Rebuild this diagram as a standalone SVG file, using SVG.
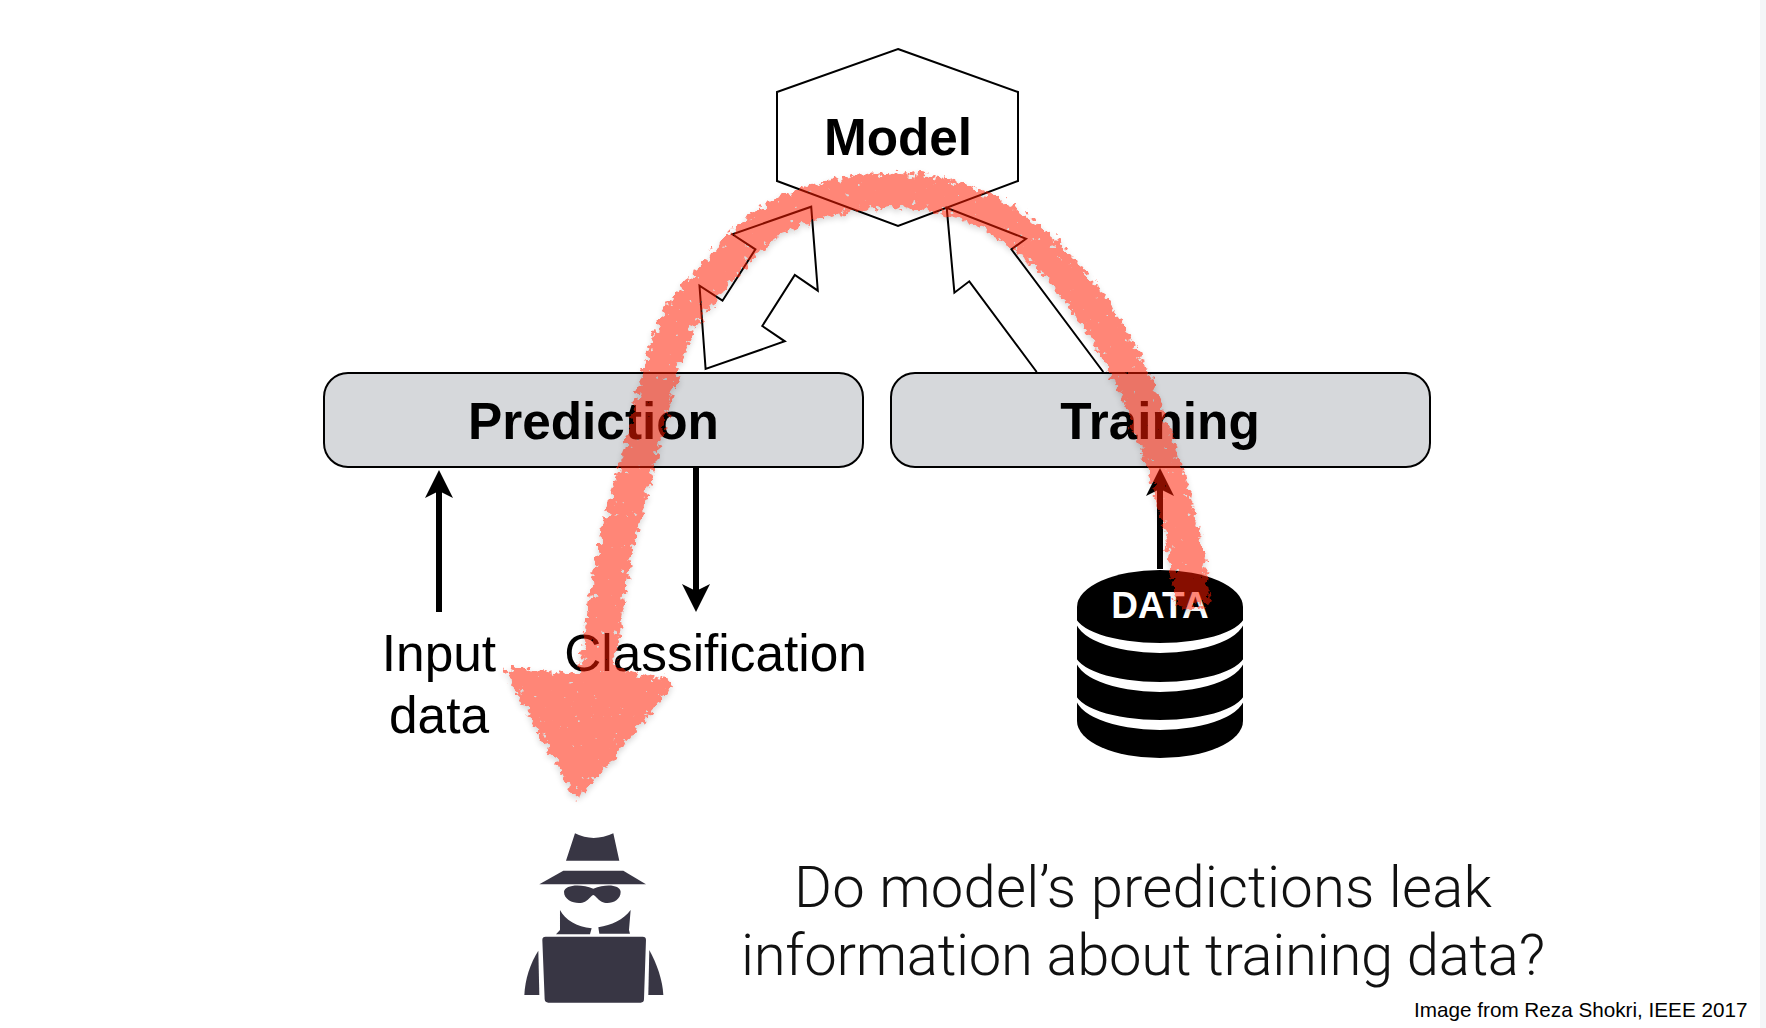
<svg xmlns="http://www.w3.org/2000/svg" width="1766" height="1028" viewBox="0 0 1766 1028">
<style>
.b{font-family:"Liberation Sans",Arial,sans-serif;font-weight:700;font-size:51.3px;fill:#000;text-anchor:middle}
.l{font-family:"Liberation Sans",Arial,sans-serif;font-size:51.4px;fill:#000;text-anchor:middle}
.q{font-family:Roboto,"Liberation Sans",sans-serif;font-weight:300;font-size:58px;fill:#111;text-anchor:middle}
.box{fill:#d6d8db;stroke:#000;stroke-width:2}
.hollow{fill:#fff;stroke:#000;stroke-width:2}
.arrow{fill:none;stroke:#000;stroke-width:6;marker-end:url(#head)}
.spy{fill:#383644}
</style>
<defs>
<marker id="head" markerUnits="userSpaceOnUse" markerWidth="32" markerHeight="32" viewBox="-2 -16 32 32" refX="8" refY="0" orient="auto"><path d="M0,-14L28,0L0,14L7,0Z" fill="#000"/></marker>
<filter id="rough" x="-10%" y="-10%" width="120%" height="120%" color-interpolation-filters="sRGB">
<feGaussianBlur in="SourceAlpha" stdDeviation="5" result="b"/>
<feTurbulence type="fractalNoise" baseFrequency="0.16" numOctaves="3" seed="7"/>
<feColorMatrix values="0 0 0 0 0 0 0 0 0 0 0 0 0 0 0 1 0 0 0 0" result="t"/>
<feComposite in="b" in2="t" operator="arithmetic" k1="0" k2="1.25" k3="1.5" k4="-1.3"/>
<feComponentTransfer result="m"><feFuncA type="linear" slope="10" intercept="-2"/></feComponentTransfer>
<feFlood flood-color="#ff1c00"/>
<feComposite in2="m" operator="in" result="c"/>
<feGaussianBlur in="m" stdDeviation="3"/>
<feOffset dx="0" dy="3"/>
<feComponentTransfer result="s"><feFuncA type="linear" slope="0.3"/></feComponentTransfer>
<feMerge><feMergeNode in="s"/><feMergeNode in="c"/></feMerge>
</filter>
</defs>
<rect width="1766" height="1028" fill="#fff"/>
<rect x="1760" width="6" height="1028" fill="#f4f6f8"/>
<g id="model">
<polygon points="898,49 1018,92 1018,181 898,226 777,181 777,92" fill="#fff" stroke="#000" stroke-width="2"/>
<text class="b" x="898" y="155">Model</text>
</g>
<g id="prediction">
<rect class="box" x="324" y="373" width="539" height="94" rx="24"/>
<text class="b" x="593.5" y="439">Prediction</text>
</g>
<g id="training">
<rect class="box" x="891" y="373" width="539" height="94" rx="24"/>
<text class="b" x="1160" y="439">Training</text>
</g>
<g id="input-data">
<text class="l" x="439" y="671">Input</text>
<text class="l" x="439" y="733">data</text>
</g>
<g id="classification">
<text class="l" x="715.5" y="671">Classification</text>
</g>
<g id="data">
<path d="M1077,607A83,37 0 0 1 1243,607V721A83,37 0 0 1 1077,721Z" fill="#000"/>
<path d="M1075,614A85,29 0 0 0 1245,614V618A85,35 0 0 1 1075,618ZM1075,653A85,29 0 0 0 1245,653V657A85,35 0 0 1 1075,657ZM1075,691A85,29 0 0 0 1245,691V695A85,35 0 0 1 1075,695Z" fill="#fff"/>
<text x="1160" y="618" font-family="Liberation Sans,Arial,sans-serif" font-weight="700" font-size="37" fill="#fff" text-anchor="middle">DATA</text>
</g>
<g id="attacker" class="spy" transform="translate(480 600) scale(0.3333)">
<path d="M285,700Q340,728 400,700L418,782H258Z"/>
<path d="M250,812H430L498,853H178Z"/>
<path d="M252,875C255,855 300,850 340,866C380,850 420,855 422,875C422,905 385,915 365,905C352,898 345,885 340,885C335,885 328,898 315,905C295,915 252,905 252,875Z"/>
<path d="M240,930C255,960 290,980 335,985L330,1003H228L240,990Z"/>
<path d="M452,930C430,960 395,975 355,982L358,1001H450L447,990Z"/>
<path d="M197,1010H488Q498,1010 498,1020L492,1198Q492,1208 482,1208H205Q195,1208 194,1198L187,1020Q187,1010 197,1010Z"/>
<path d="M175,1052C150,1090 135,1140 133,1185H178Z"/>
<path d="M508,1050C530,1090 548,1140 550,1185H505Z"/>
</g>
<g id="question">
<text class="q" x="1143" y="907" textLength="698" lengthAdjust="spacing">Do model’s predictions leak</text>
<text class="q" x="1143" y="975" textLength="804" lengthAdjust="spacing">information about training data?</text>
</g>
<g id="credit">
<text x="1414" y="1017" font-family="Liberation Sans,Arial,sans-serif" font-size="20.7" fill="#000">Image from Reza Shokri, IEEE 2017</text>
</g>
<g id="connectors">
<path class="hollow" d="M811.2,206.7L817.8,290.7L794.8,275L762.3,326L784.8,341.3L705.6,369L699.5,285.7L722.5,300.7L755.4,249.3L732.4,234.3Z"/>
<path class="hollow" d="M1036.7,372L969.3,281.3L954.4,292.7L946.7,207.7L1026,238.7L1011.4,249.3L1103.3,372"/>
<line class="arrow" x1="439" y1="612" x2="439" y2="490"/>
<line class="arrow" x1="696" y1="468" x2="696" y2="592"/>
<line class="arrow" x1="1160" y1="569" x2="1160" y2="488"/>
<g id="leak" filter="url(#rough)" opacity="0.53">
<path d="M1194,608C1187,540 1167,470 1150,425C1125,345 1075,275 1021,233C975,198 930,189 891,190C860,191 835,195 810,203C780,212 755,230 734,253C712,276 690,300 676,325C664,355 655,390 648,422C638,465 624,510 615,552C608,590 601,630 597,680" fill="none" stroke="#000" stroke-width="38"/>
<path d="M507,668Q570,680 620,672L673,683L577,797Z" fill="#000" stroke="#000" stroke-width="8" stroke-linejoin="round"/>
</g>
</g>
</svg>
